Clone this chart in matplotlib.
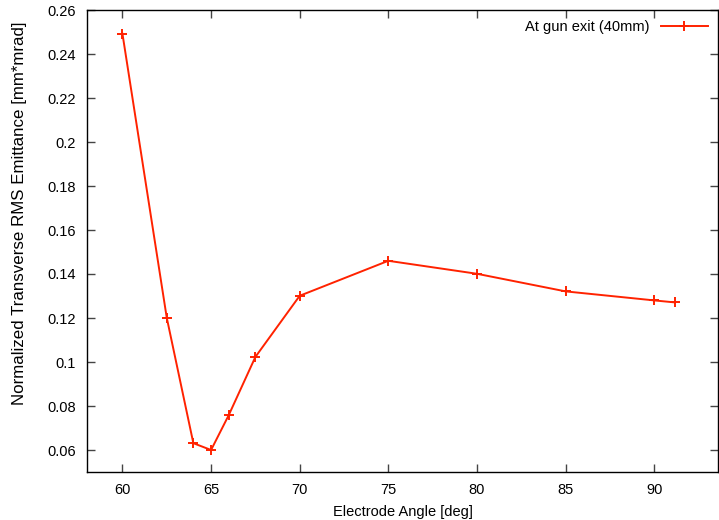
import matplotlib
matplotlib.use('Agg')
import matplotlib.pyplot as plt

plt.rcParams['font.family'] = ['Liberation Sans', 'DejaVu Sans']

angle = [60, 62.5, 64, 65, 66, 67.5, 70, 75, 80, 85, 90, 91.15]
emittance = [0.2492, 0.1201, 0.0631, 0.0600, 0.0759, 0.1023, 0.1301, 0.1460, 0.1401, 0.1321, 0.1280, 0.1271]
xticks = [60, 65, 70, 75, 80, 85, 90]
yticks = [0.06, 0.08, 0.1, 0.12, 0.14, 0.16, 0.18, 0.2, 0.22, 0.24, 0.26]
ytick_labels = ['0.06', '0.08', '0.1', '0.12', '0.14', '0.16', '0.18', '0.2', '0.22', '0.24', '0.26']

fig = plt.figure(figsize=(7.19, 5.2), dpi=100)
ax = fig.add_axes([87/719, 48/520, 631/719, 462/520])

ax.plot(angle, emittance, color='#ff2200', lw=1.4, marker='+', ms=7, mew=1.4,
        label='At gun exit (40mm)')

ax.set_xlim(58, 93.6)
ax.set_ylim(0.05, 0.26)
ax.set_xticks(xticks)
ax.set_yticks(yticks)
ax.set_yticklabels(ytick_labels)
ax.tick_params(direction='in', top=True, right=True, length=6, width=1,
               labelsize=10.5, color='#444444', pad=8)
for s in ax.spines.values():
    s.set_linewidth(1)

ax.set_xlabel('Electrode Angle [deg]', fontsize=10.5, labelpad=6)
ax.set_ylabel('Normalized Transverse RMS Emittance [mm*mrad]', fontsize=12.2)
ax.yaxis.set_label_coords(-60/631, 0.56)

ax.legend(loc='upper right', frameon=False, markerfirst=False, fontsize=10.5,
          handlelength=3.2, borderaxespad=0.3)

fig.savefig('out.png', dpi=100)
